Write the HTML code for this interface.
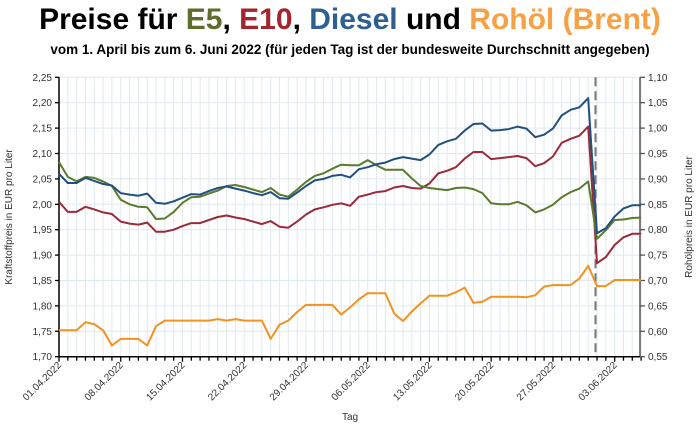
<!DOCTYPE html><html><head><meta charset="utf-8"><style>
body{margin:0;background:#fff;width:700px;height:428px;overflow:hidden;font-family:"Liberation Sans",sans-serif}
</style></head><body>
<svg id="s" width="700" height="428" xmlns="http://www.w3.org/2000/svg" font-family="Liberation Sans, sans-serif">
<text x="350" y="29" text-anchor="middle" font-size="30" font-weight="bold" fill="#000">Preise für <tspan fill="#5b6e2b">E5</tspan>, <tspan fill="#a3262f">E10</tspan>, <tspan fill="#2d5f91">Diesel</tspan> und <tspan fill="#f7a045">Rohöl (Brent)</tspan></text>
<text x="350" y="54" text-anchor="middle" font-size="13.5" font-weight="bold" fill="#000">vom 1. April bis zum 6. Juni 2022 (für jeden Tag ist der bundesweite Durchschnitt angegeben)</text>
<g id="grid"></g>
<g id="ax"></g>
<g id="lines"></g>
<text x="350" y="420" text-anchor="middle" font-size="10" fill="#333">Tag</text>
<text transform="translate(12,217) rotate(-90)" text-anchor="middle" font-size="10" fill="#333">Kraftstoffpreis in EUR pro Liter</text>
<text transform="translate(692,217) rotate(-90)" text-anchor="middle" font-size="10" fill="#333">Rohölpreis in EUR pro Liter</text>
</svg>
<script>
var NS="http://www.w3.org/2000/svg";
function el(p,t,a,txt){var e=document.createElementNS(NS,t);for(var k in a)e.setAttribute(k,a[k]);if(txt!==undefined)e.textContent=txt;document.getElementById(p).appendChild(e);return e;}
var L=59,R=640,T=77.3,B=356.7,dx=8.82;
function X(d){return L+dx*d;}function Y(v){return T+(2.25-v)*(B-T)/0.55;}
for(var d=0;d<=66;d++){el("grid","line",{x1:X(d),x2:X(d),y1:T,y2:B,stroke:"#dfeaee","stroke-width":1});
 el("ax","line",{x1:X(d),x2:X(d),y1:B,y2:B+(d%7==0?5:4),stroke:"#000","stroke-width":1.3});}
for(var i=0;i<=11;i++){var v=1.70+i*0.05,y=Y(v);
 el("grid","line",{x1:L,x2:R,y1:y,y2:y,stroke:"#dfeaee","stroke-width":1});
 el("ax","line",{x1:L-4,x2:L,y1:y,y2:y,stroke:"#000","stroke-width":1.3});
 el("ax","line",{x1:R,x2:R+5,y1:y,y2:y,stroke:"#555","stroke-width":1.3});
 el("ax","text",{x:L-7,y:y+3.5,"text-anchor":"end","font-size":10,fill:"#333"},v.toFixed(2).replace(".",","));
 el("ax","text",{x:R+8,y:y+3.5,"font-size":10,fill:"#333"},(v-1.15).toFixed(2).replace(".",","));}
el("ax","line",{x1:L,x2:L,y1:T,y2:B,stroke:"#000","stroke-width":1.5});
el("ax","line",{x1:R,x2:R,y1:T,y2:B,stroke:"#555","stroke-width":1.5});
el("ax","line",{x1:L,x2:R,y1:B,y2:B,stroke:"#000","stroke-width":1.5});
var labs=["01.04.2022","08.04.2022","15.04.2022","22.04.2022","29.04.2022","06.05.2022","13.05.2022","20.05.2022","27.05.2022","03.06.2022"];
labs.forEach(function(t,i){var x=X(i*7);el("ax","text",{transform:"translate("+(x+3)+","+(B+9)+") rotate(-45)","text-anchor":"end","font-size":10,fill:"#333"},t);});
el("lines","line",{x1:595.5,x2:595.5,y1:T,y2:B,stroke:"#777","stroke-width":2,"stroke-dasharray":"9,5"});
var crude=[1.752,1.752,1.752,1.768,1.764,1.752,1.722,1.735,1.735,1.735,1.722,1.76,1.771,1.771,1.771,1.771,1.771,1.771,1.774,1.771,1.774,1.771,1.771,1.771,1.735,1.763,1.771,1.788,1.802,1.802,1.802,1.802,1.783,1.797,1.813,1.825,1.825,1.825,1.785,1.77,1.789,1.805,1.82,1.82,1.82,1.827,1.836,1.806,1.808,1.818,1.818,1.818,1.818,1.817,1.821,1.838,1.841,1.841,1.841,1.854,1.879,1.839,1.839,1.851,1.851,1.851,1.851];
var e10=[2.005,1.985,1.985,1.995,1.99,1.984,1.981,1.966,1.962,1.96,1.964,1.946,1.946,1.95,1.957,1.963,1.963,1.969,1.975,1.978,1.974,1.971,1.966,1.961,1.967,1.956,1.954,1.966,1.98,1.99,1.994,1.999,2.002,1.997,2.015,2.019,2.024,2.026,2.033,2.036,2.032,2.031,2.041,2.061,2.066,2.073,2.09,2.103,2.103,2.089,2.091,2.093,2.095,2.091,2.075,2.081,2.094,2.121,2.129,2.135,2.153,1.884,1.896,1.92,1.935,1.942,1.942];
var e5=[2.083,2.054,2.045,2.054,2.052,2.045,2.036,2.009,2.0,1.995,1.994,1.971,1.972,1.985,2.003,2.014,2.015,2.021,2.027,2.036,2.038,2.034,2.029,2.024,2.032,2.019,2.015,2.029,2.044,2.056,2.061,2.07,2.078,2.077,2.077,2.087,2.077,2.068,2.068,2.068,2.051,2.036,2.032,2.03,2.028,2.032,2.033,2.03,2.022,2.002,2.0,2.0,2.005,1.998,1.984,1.99,1.999,2.014,2.024,2.031,2.045,1.932,1.949,1.969,1.97,1.973,1.974];
var ds=[2.06,2.042,2.042,2.052,2.046,2.04,2.037,2.022,2.019,2.017,2.021,2.003,2.001,2.006,2.013,2.02,2.019,2.026,2.032,2.035,2.031,2.027,2.022,2.018,2.024,2.012,2.011,2.023,2.036,2.047,2.05,2.056,2.058,2.053,2.069,2.073,2.079,2.082,2.089,2.093,2.09,2.087,2.098,2.117,2.124,2.129,2.145,2.158,2.159,2.145,2.146,2.148,2.153,2.149,2.132,2.137,2.149,2.175,2.186,2.191,2.209,1.943,1.953,1.976,1.992,1.998,1.998];
function pl(a,c){el("lines","polyline",{points:a.map(function(v,i){return X(i).toFixed(1)+","+Y(v).toFixed(1);}).join(" "),fill:"none",stroke:c,"stroke-width":2,"stroke-linejoin":"round"});}
pl(crude,"#f39220");pl(e10,"#9b2a38");pl(e5,"#5a7a2c");pl(ds,"#22507e");
</script>
</body></html>
